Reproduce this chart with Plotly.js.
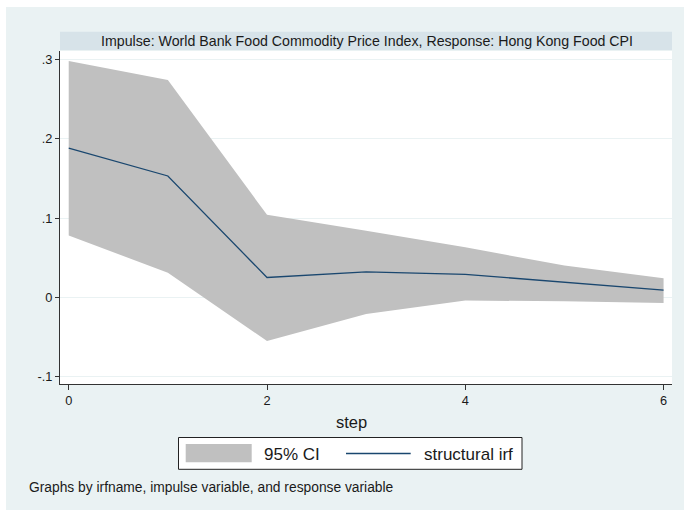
<!DOCTYPE html>
<html>
<head>
<meta charset="utf-8">
<script src="https://cdn.plot.ly/plotly-3.0.1.min.js"></script>
<style>
  html, body { margin: 0; padding: 0; background: #ffffff; }
  #wrap { position: absolute; left: 6px; top: 7px; width: 678px; height: 503px; }
</style>
</head>
<body>
<div id="wrap"></div>
<script>
// ---- data ----
const steps = [0, 1, 2, 3, 4, 5, 6];
const irf = [0.188, 0.153, 0.025, 0.032, 0.029, 0.019, 0.009];
const ciUpper = [0.298, 0.274, 0.104, 0.084, 0.063, 0.040, 0.024];
const ciLower = [0.078, 0.031, -0.055, -0.021, -0.004, -0.005, -0.007];
const yTickVals = [-0.1, 0, 0.1, 0.2, 0.3];
const yTickText = ['-.1', '0', '.1', '.2', '.3'];
const xTickVals = [0, 2, 4, 6];
const xTickText = ['0', '2', '4', '6'];
const panelTitle = 'Impulse: World Bank Food Commodity Price Index, Response: Hong Kong Food CPI';
const xTitle = 'step';
const legendLabels = ['95% CI', 'structural irf'];
const noteText = 'Graphs by irfname, impulse variable, and response variable';

// ---- styling ----
const BG = '#EAF2F3';
const BAR = '#D7E3E9';
const CI = '#C0C0C0';
const NAVY = '#1A476F';
const FONT = 'Liberation Sans, Arial, sans-serif';
const TXT = '#1a1a1a';

// page-pixel -> paper helpers (plot area: page x 60..672, y 51..384)
const PL = 60, PW = 612, PB = 384, PH = 333;
const px = v => (v - PL) / PW;
const py = v => (PB - v) / PH;

const traces = [
  { x: steps, y: ciLower, type: 'scatter', mode: 'lines', line: { width: 0, color: CI },
    hoverinfo: 'skip', showlegend: false },
  { x: steps, y: ciUpper, type: 'scatter', mode: 'lines', line: { width: 0, color: CI },
    fill: 'tonexty', fillcolor: CI, name: legendLabels[0], showlegend: false },
  { x: steps, y: irf, type: 'scatter', mode: 'lines', line: { width: 1.3, color: NAVY },
    name: legendLabels[1], showlegend: false }
];

const layout = {
  width: 678, height: 503,
  margin: { l: 54, r: 12, t: 44, b: 126, pad: 0 },
  paper_bgcolor: BG,
  plot_bgcolor: '#ffffff',
  font: { family: FONT, color: TXT },
  showlegend: false,
  xaxis: {
    range: [-0.088, 6.085],
    tickvals: xTickVals, ticktext: xTickText,
    ticks: 'outside', ticklen: 5, tickcolor: '#333', tickwidth: 1,
    showgrid: false, zeroline: false,
    showline: true, linecolor: '#333', linewidth: 1,
    tickfont: { size: 12.8, color: TXT, family: FONT }
  },
  yaxis: {
    range: [-0.1092, 0.3105],
    tickvals: yTickVals, ticktext: yTickText,
    ticks: 'outside', ticklen: 4, tickcolor: '#333', tickwidth: 1,
    showgrid: true, gridcolor: BG, gridwidth: 1,
    zeroline: false,
    showline: true, linecolor: '#333', linewidth: 1,
    tickfont: { size: 12.8, color: TXT, family: FONT }
  },
  shapes: [
    // panel title bar
    { type: 'rect', xref: 'paper', yref: 'paper', x0: px(60), x1: px(672), y0: py(50), y1: py(31.7),
      fillcolor: BAR, line: { width: 0 }, layer: 'below' },
    // legend box
    { type: 'rect', xref: 'paper', yref: 'paper', x0: px(178.5), x1: px(522), y0: py(469.3), y1: py(437.5),
      fillcolor: '#ffffff', line: { color: '#222', width: 1 } },
    // legend swatch
    { type: 'rect', xref: 'paper', yref: 'paper', x0: px(185.7), x1: px(251.7), y0: py(462.3), y1: py(444),
      fillcolor: CI, line: { width: 0 } },
    // legend line
    { type: 'line', xref: 'paper', yref: 'paper', x0: px(346), x1: px(410.7), y0: py(453.5), y1: py(453.5),
      line: { color: NAVY, width: 1.5 } }
  ],
  annotations: [
    { text: panelTitle, xref: 'paper', yref: 'paper', x: px(367), y: py(41), xanchor: 'center', yanchor: 'middle',
      showarrow: false, font: { size: 14.2, color: TXT, family: FONT } },
    { text: xTitle, xref: 'paper', yref: 'paper', x: px(351), y: py(421.5), xanchor: 'center', yanchor: 'middle',
      showarrow: false, font: { size: 16.5, color: TXT, family: FONT } },
    { text: legendLabels[0], xref: 'paper', yref: 'paper', x: px(261.5), y: py(454), xanchor: 'left', yanchor: 'middle',
      showarrow: false, font: { size: 17, color: TXT, family: FONT } },
    { text: legendLabels[1], xref: 'paper', yref: 'paper', x: px(421.5), y: py(454), xanchor: 'left', yanchor: 'middle',
      showarrow: false, font: { size: 17, color: TXT, family: FONT } },
    { text: noteText, xref: 'paper', yref: 'paper', x: px(27), y: py(487), xanchor: 'left', yanchor: 'middle',
      showarrow: false, font: { size: 13.8, color: TXT, family: FONT } }
  ]
};

Plotly.newPlot('wrap', traces, layout, { displayModeBar: false, staticPlot: true });
</script>
</body>
</html>
